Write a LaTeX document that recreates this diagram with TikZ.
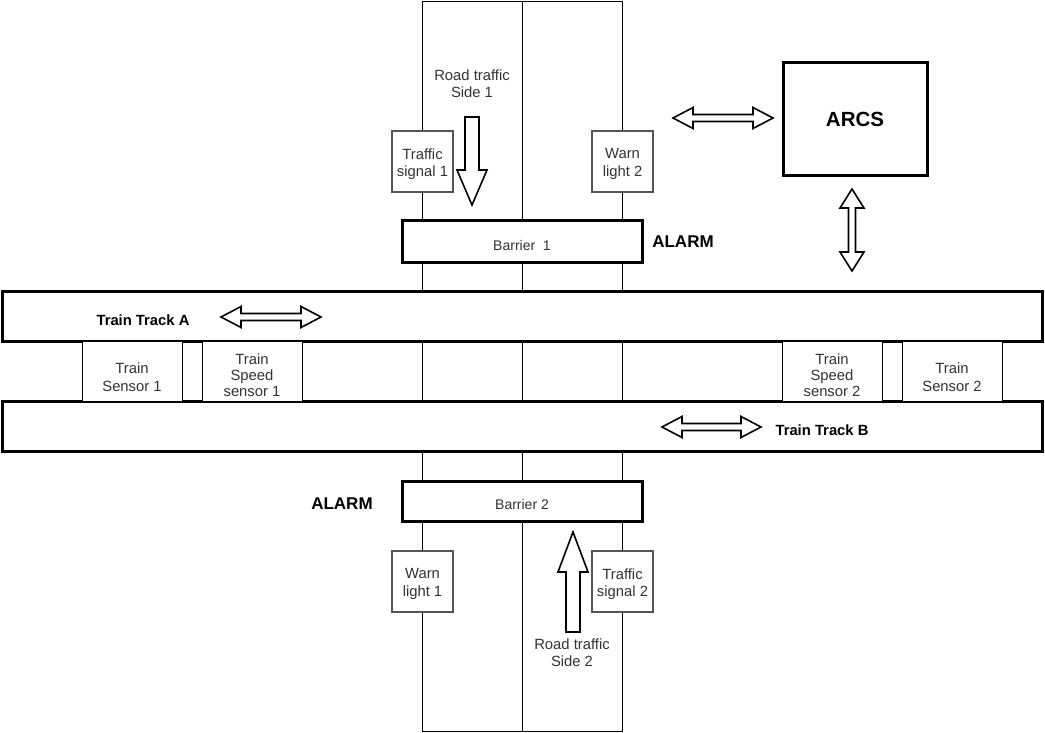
\documentclass[tikz,border=0pt]{standalone}
\usepackage{fontspec}
\setmainfont{Liberation Sans}
\definecolor{txtgray}{HTML}{333333}
\definecolor{boxgray}{HTML}{555555}
\newcommand\hdarrow[3]{%
  \draw[hollow] (#1,#3) -- (#1+20,#3-10.5) -- (#1+20,#3-3.5) -- (#2-20,#3-3.5) -- (#2-20,#3-10.5)
    -- (#2,#3) -- (#2-20,#3+10.5) -- (#2-20,#3+3.5) -- (#1+20,#3+3.5) -- (#1+20,#3+10.5) -- cycle;}
\newcommand\vdarrow[3]{%
  \draw[hollow] (#1,#2) -- (#1+12,#2+19) -- (#1+3.5,#2+19) -- (#1+3.5,#3-19) -- (#1+12,#3-19)
    -- (#1,#3) -- (#1-12,#3-19) -- (#1-3.5,#3-19) -- (#1-3.5,#2+19) -- (#1-12,#2+19) -- cycle;}
\begin{document}
\begin{tikzpicture}[x=1pt,y=-1pt,
  lbl/.style={font=\fontsize{14.8}{17.5}\selectfont, text=txtgray, align=center},
  blbl/.style={font=\fontsize{14.8}{17}\selectfont\bfseries, text=black},
  dev/.style={draw=boxgray, line width=2pt, fill=white, minimum width=61pt, minimum height=61pt, inner sep=0pt, lbl},
  sensor/.style={draw, line width=1pt, fill=white, minimum width=100pt, minimum height=60pt, inner sep=0pt, lbl},
  heavybox/.style={draw, line width=3pt, fill=white, inner sep=0pt},
  hollow/.style={draw, line width=1.6pt, fill=white, line join=miter},
  roadline/.style={line width=1pt}]
\useasboundingbox (0,0) rectangle (1045,733);
% road
\draw[roadline] (422,2) rectangle (622,731);
\coordinate (rtop) at (522,2);
\coordinate (rbot) at (522,731);
\draw[roadline] (rtop) -- (rbot);
% tracks
\node[heavybox, minimum width=1040pt, minimum height=50pt] (trackA) at (522,316.5) {};
\node[heavybox, minimum width=1040pt, minimum height=50pt] (trackB) at (522,426.5) {};
\node[blbl] (tA) at (143,320) {Train Track A};
\node[blbl] (tB) at (822,430) {Train Track B};
% sensors
\node[sensor] (ts1) at (132,371) {};
\node[sensor] (tss1) at (252,371) {};
\node[sensor] (tss2) at (832,371) {};
\node[sensor] (ts2) at (952,371) {};
\node[lbl] at ([yshift=-6pt]ts1.center) {Train\\Sensor 1};
\node[lbl, font=\fontsize{14.8}{16}\selectfont] at ([yshift=-4.5pt]tss1.center) {Train\\Speed\\sensor 1};
\node[lbl, font=\fontsize{14.8}{16}\selectfont] at ([yshift=-4.5pt]tss2.center) {Train\\Speed\\sensor 2};
\node[lbl] at ([yshift=-6pt]ts2.center) {Train\\Sensor 2};
% barriers
\node[heavybox, minimum width=240pt, minimum height=41pt] (b1) at (522,241.5) {};
\node[heavybox, minimum width=240pt, minimum height=40pt] (b2) at (522,501) {};
\node[lbl, font=\fontsize{14}{16}\selectfont] at ([yshift=-3.5pt]b1.center) {Barrier\ \ 1};
\node[lbl, font=\fontsize{14}{16}\selectfont] at ([yshift=-3pt]b2.center) {Barrier 2};
\node[font=\fontsize{17}{20}\selectfont\bfseries] (al1) at (683,242) {ALARM};
\node[font=\fontsize{17}{20}\selectfont\bfseries] (al2) at (342,504) {ALARM};
% devices
\node[dev] (sig1) at (422.5,161.5) {};
\node[dev] (wl2) at (622.5,161.5) {};
\node[dev] (wl1) at (422.5,581.5) {};
\node[dev] (sig2) at (622.5,581.5) {};
\node[lbl] at ([yshift=-2.5pt]sig1.center) {Traffic\\signal 1};
\node[lbl] at ([yshift=-2.5pt]wl2.center) {Warn\\light 2};
\node[lbl] at ([yshift=-2.5pt]wl1.center) {Warn\\light 1};
\node[lbl] at ([yshift=-2.5pt]sig2.center) {Traffic\\signal 2};
% ARCS
\node[heavybox, minimum width=144pt, minimum height=113pt, font=\fontsize{20.5}{24}\selectfont\bfseries] (arcs) at (855,119.5) {ARCS};
% road traffic
\node[lbl] (rt1) at (472,83.5) {Road traffic\\Side 1};
\node[lbl] (rt2) at (572,652.5) {Road traffic\\Side 2};
\draw[hollow] (465,117) -- (479,117) -- (479,170) -- (487,170) -- (472,205) -- (457,170) -- (465,170) -- cycle;
\draw[hollow] (566,632) -- (580,632) -- (580,572) -- (588,572) -- (573,532) -- (558,572) -- (566,572) -- cycle;
% double arrows
\hdarrow{673}{773}{118}
\vdarrow{852}{189}{271}
\hdarrow{221}{321}{317}
\hdarrow{662}{761}{427}
\end{tikzpicture}
\end{document}
